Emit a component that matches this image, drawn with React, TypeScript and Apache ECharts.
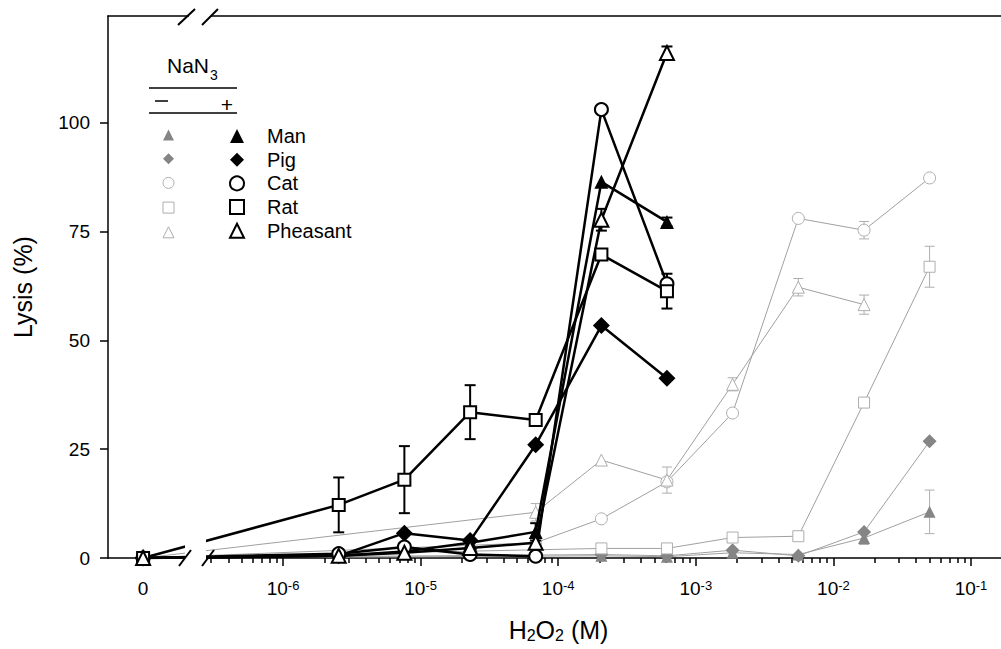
import React, { useEffect, useRef } from 'react';
import * as echarts from 'echarts';

const FONT = '"Liberation Sans", Arial, Helvetica, sans-serif';

// ---- axis settings (log10 of molar H2O2; 0 M is drawn left of the axis break) ----
const ZERO_POS = -7.017;
const X_MIN = -7.272;
const X_MAX = -0.782;
const X_EXPONENTS = [-6, -5, -4, -3, -2, -1];
const Y_TICKS = [0, 25, 50, 75, 100];
const Y_MAX = 124.5;

const SPECIES = ['Man', 'Pig', 'Cat', 'Rat', 'Pheasant'];

// ---- + NaN3 (black) ----
const CONC_PLUS = [0, 2.54e-6, 7.62e-6, 2.29e-5, 6.86e-5, 2.06e-4, 6.17e-4];
const MAN_PLUS = [0, 0.5, 1.5, 3.5, 6, 86.4, 77.2];
const PIG_PLUS = [0, 0.5, 5.7, 4, 26, 53.4, 41.3];
const CAT_PLUS = [0, 1, 2.5, 0.8, 0.4, 103, 63];
const RAT_PLUS = [0, 12.2, 18, 33.5, 31.7, 69.7, 61.3];
const PHEASANT_PLUS = [0, 0.5, 1.2, 2.3, 3.5, 77.7, 116];
const MAN_PLUS_ERR = [null, null, null, null, 2, null, 1];
const PIG_PLUS_ERR = [null, null, null, null, null, null, null];
const CAT_PLUS_ERR = [null, null, null, null, null, null, null];
const RAT_PLUS_ERR = [null, 6.3, 7.7, 6.2, 1, null, 4];
const PHEASANT_PLUS_ERR = [null, null, null, null, null, 2.5, 1.5];

// ---- - NaN3 (grey) ----
const CONC_MINUS = [0, 6.86e-5, 2.06e-4, 6.17e-4, 1.85e-3, 5.56e-3, 1.67e-2, 5.0e-2];
const MAN_MINUS = [0, null, 0.5, 0.3, 1.2, 0.8, 4.6, 10.6];
const PIG_MINUS = [0, null, 0.8, 0.5, 1.8, 0.5, 6, 26.8];
const CAT_MINUS = [0, 3.5, 9, 17.5, 33.3, 78, 75.3, 87.3];
const RAT_MINUS = [0, null, 2.2, 2.2, 4.7, 5, 35.7, 66.9];
const PHEASANT_MINUS = [0, 10.5, 22.5, 17.9, 39.9, 62.2, 58.2, null];
const MAN_MINUS_ERR = [null, null, null, null, null, null, 1.5, 5];
const PIG_MINUS_ERR = [null, null, null, null, null, null, null, null];
const CAT_MINUS_ERR = [null, null, null, null, null, null, 2, null];
const RAT_MINUS_ERR = [null, null, null, null, null, null, null, 4.7];
const PHEASANT_MINUS_ERR = [null, 2, null, 3, 1.5, 2, 2.2, null];

const PLUS_VALUES = [MAN_PLUS, PIG_PLUS, CAT_PLUS, RAT_PLUS, PHEASANT_PLUS];
const PLUS_ERRS = [MAN_PLUS_ERR, PIG_PLUS_ERR, CAT_PLUS_ERR, RAT_PLUS_ERR, PHEASANT_PLUS_ERR];
const MINUS_VALUES = [MAN_MINUS, PIG_MINUS, CAT_MINUS, RAT_MINUS, PHEASANT_MINUS];
const MINUS_ERRS = [MAN_MINUS_ERR, PIG_MINUS_ERR, CAT_MINUS_ERR, RAT_MINUS_ERR, PHEASANT_MINUS_ERR];

const BLACK = '#000';
const GREY_LINE = '#a0a0a0';
const GREY_EDGE = '#aeaeae';
const GREY_FILL = '#858585';

const PLUS_STYLE = [
  { symbol: 'triangle', size: 14, item: { color: BLACK } },
  { symbol: 'diamond', size: 17, item: { color: BLACK } },
  { symbol: 'circle', size: 13, item: { color: '#fff', borderColor: BLACK, borderWidth: 2 } },
  { symbol: 'rect', size: 12, item: { color: '#fff', borderColor: BLACK, borderWidth: 2 } },
  { symbol: 'triangle', size: 14, item: { color: '#fff', borderColor: BLACK, borderWidth: 2 } },
];
const MINUS_STYLE = [
  { symbol: 'triangle', size: 12, item: { color: GREY_FILL } },
  { symbol: 'diamond', size: 14, item: { color: GREY_FILL } },
  { symbol: 'circle', size: 12, item: { color: '#fff', borderColor: GREY_EDGE, borderWidth: 1 } },
  { symbol: 'rect', size: 11, item: { color: '#fff', borderColor: GREY_EDGE, borderWidth: 1 } },
  { symbol: 'triangle', size: 12, item: { color: '#fff', borderColor: GREY_EDGE, borderWidth: 1 } },
];

const xOf = (c: number) => (c === 0 ? ZERO_POS : Math.log10(c));
const minusName = (s: string) => s + ' (−NaN3)';

function buildOption() {
  const majorX = [ZERO_POS, ...X_EXPONENTS];
  const minorX: number[] = [];
  for (let d = -7; d <= -1; d++) {
    for (let k = 2; k <= 9; k++) {
      const v = Math.log10(k) + d;
      if (v >= Math.log10(3e-7) - 1e-9 && v <= X_MAX) minorX.push(v);
    }
  }

  const series: any[] = [];

  const errorSeries = (rows: number[][], color: string, width: number, cap: number, z: number) => ({
    type: 'custom',
    xAxisIndex: 0,
    yAxisIndex: 0,
    z,
    silent: true,
    data: rows,
    renderItem: (_p: any, api: any) => {
      const x = api.value(0);
      const y = api.value(1);
      const e = api.value(2);
      const top = api.coord([x, y + e]);
      const bot = api.coord([x, Math.max(0, y - e)]);
      const style = { stroke: color, lineWidth: width };
      return {
        type: 'group',
        children: [
          { type: 'line', shape: { x1: top[0], y1: top[1], x2: bot[0], y2: bot[1] }, style },
          { type: 'line', shape: { x1: top[0] - cap, y1: top[1], x2: top[0] + cap, y2: top[1] }, style },
          { type: 'line', shape: { x1: bot[0] - cap, y1: bot[1], x2: bot[0] + cap, y2: bot[1] }, style },
        ],
      };
    },
  });

  // grey (-NaN3)
  const greyErrRows: number[][] = [];
  SPECIES.forEach((s, i) => {
    const vals = MINUS_VALUES[i];
    const data: number[][] = [];
    CONC_MINUS.forEach((c, j) => {
      if (vals[j] !== null) data.push([xOf(c), vals[j] as number]);
      const e = MINUS_ERRS[i][j];
      if (e !== null && vals[j] !== null) greyErrRows.push([xOf(c), vals[j] as number, e as number]);
    });
    series.push({
      type: 'line',
      name: minusName(s),
      data,
      z: 2,
      silent: true,
      symbol: MINUS_STYLE[i].symbol,
      symbolSize: MINUS_STYLE[i].size,
      showAllSymbol: true,
      lineStyle: { color: GREY_LINE, width: 1 },
      itemStyle: MINUS_STYLE[i].item,
      emphasis: { disabled: true },
    });
  });
  series.push(errorSeries(greyErrRows, GREY_EDGE, 1, 5, 1));

  // black (+NaN3)
  const blackErrRows: number[][] = [];
  SPECIES.forEach((s, i) => {
    const vals = PLUS_VALUES[i];
    const data: number[][] = [];
    CONC_PLUS.forEach((c, j) => {
      data.push([xOf(c), vals[j]]);
      const e = PLUS_ERRS[i][j];
      if (e !== null) blackErrRows.push([xOf(c), vals[j], e as number]);
    });
    series.push({
      type: 'line',
      name: s,
      data,
      z: 5,
      silent: true,
      symbol: PLUS_STYLE[i].symbol,
      symbolSize: PLUS_STYLE[i].size,
      showAllSymbol: true,
      lineStyle: { color: BLACK, width: 2.5 },
      itemStyle: PLUS_STYLE[i].item,
      emphasis: { disabled: true },
    });
  });
  series.push(errorSeries(blackErrRows, BLACK, 2, 5.5, 4));

  const axisLineStyle = { color: '#000', width: 1.5 };

  return {
    animation: false,
    backgroundColor: '#fff',
    textStyle: { fontFamily: FONT },
    grid: { left: 108, right: 0, top: 16, bottom: 91, containLabel: false },
    legend: [
      {
        orient: 'vertical',
        left: 157.5,
        top: 124.5,
        itemWidth: 11,
        itemHeight: 11,
        itemGap: 12.7,
        selectedMode: false,
        formatter: () => '',
        textStyle: { fontSize: 11, lineHeight: 11 },
        data: SPECIES.map((s, i) => ({
          name: minusName(s),
          icon: MINUS_STYLE[i].symbol,
          itemStyle: { ...MINUS_STYLE[i].item, borderWidth: MINUS_STYLE[i].item.borderWidth || 0 },
        })),
      },
      {
        orient: 'vertical',
        left: 224,
        top: 121,
        itemWidth: 14,
        itemHeight: 14,
        itemGap: 3.7,
        selectedMode: false,
        textStyle: { fontSize: 20, lineHeight: 14, color: '#000', fontFamily: FONT, padding: [0, 0, 0, 18] },
        data: SPECIES.map((s, i) => ({
          name: s,
          icon: PLUS_STYLE[i].symbol,
          itemStyle: { ...PLUS_STYLE[i].item, borderWidth: PLUS_STYLE[i].item.borderWidth || 0 },
        })),
      },
    ],
    xAxis: [
      {
        type: 'value',
        min: X_MIN,
        max: X_MAX,
        position: 'bottom',
        axisLine: { show: true, onZero: false, lineStyle: axisLineStyle },
        axisTick: { show: true, inside: false, length: 8, customValues: majorX, lineStyle: axisLineStyle },
        axisLabel: {
          show: true,
          customValues: majorX,
          margin: 21,
          formatter: (v: number) =>
            Math.abs(v - ZERO_POS) < 1e-6 ? '{b|0}' : '{b|10}{s|' + Math.round(v) + '}',
          rich: {
            b: { fontSize: 19, color: '#000', fontFamily: FONT },
            s: { fontSize: 13, color: '#000', fontFamily: FONT, verticalAlign: 'top' },
          },
        },
        splitLine: { show: false },
        name: '{a|H}{s|2}{a|O}{s|2}{a| (M)}',
        nameLocation: 'middle',
        nameGap: 59,
        nameTextStyle: {
          padding: [0, 0, 0, 8],
          rich: {
            a: { fontSize: 25, color: '#000', fontFamily: FONT, verticalAlign: 'top', lineHeight: 26 },
            s: { fontSize: 16, color: '#000', fontFamily: FONT, verticalAlign: 'bottom', lineHeight: 16, padding: [12, 0, 0, 0] },
          },
        },
      },
      {
        type: 'value',
        min: X_MIN,
        max: X_MAX,
        position: 'bottom',
        axisLine: { show: false, onZero: false },
        axisTick: { show: true, inside: false, length: 5, customValues: minorX, lineStyle: axisLineStyle },
        axisLabel: { show: false },
        splitLine: { show: false },
      },
      {
        type: 'value',
        min: X_MIN,
        max: X_MAX,
        position: 'top',
        axisLine: { show: true, onZero: false, lineStyle: axisLineStyle },
        axisTick: { show: false },
        axisLabel: { show: false },
        splitLine: { show: false },
      },
    ],
    yAxis: {
      type: 'value',
      min: 0,
      max: Y_MAX,
      position: 'left',
      axisLine: { show: true, onZero: false, lineStyle: axisLineStyle },
      axisTick: { show: true, inside: false, length: 8, customValues: Y_TICKS, lineStyle: axisLineStyle },
      axisLabel: { customValues: Y_TICKS, fontSize: 19, color: '#000', margin: 18, fontFamily: FONT },
      splitLine: { show: false },
      name: 'Lysis (%)',
      nameLocation: 'middle',
      nameGap: 73,
      nameTextStyle: { fontSize: 25, color: '#000', fontFamily: FONT },
    },
    graphic: [
      // axis break (bottom)
      { type: 'rect', z: 20, shape: { x: 185, y: 495, width: 21, height: 70 }, style: { fill: '#fff' } },
      { type: 'line', z: 21, shape: { x1: 179, y1: 566, x2: 191, y2: 550 }, style: { stroke: '#000', lineWidth: 2 } },
      { type: 'line', z: 21, shape: { x1: 202, y1: 566, x2: 214, y2: 550 }, style: { stroke: '#000', lineWidth: 2 } },
      // axis break (top)
      { type: 'rect', z: 20, shape: { x: 189, y: 11, width: 22, height: 10 }, style: { fill: '#fff' } },
      { type: 'line', z: 21, shape: { x1: 178, y1: 25, x2: 195, y2: 9 }, style: { stroke: '#000', lineWidth: 2 } },
      { type: 'line', z: 21, shape: { x1: 202, y1: 25, x2: 218, y2: 9 }, style: { stroke: '#000', lineWidth: 2 } },
      // legend header
      { type: 'text', z: 21, style: { text: 'NaN', x: 167, y: 65, fontSize: 21, fontFamily: FONT, fill: '#000', verticalAlign: 'middle' } },
      { type: 'text', z: 21, style: { text: '3', x: 210, y: 75, fontSize: 14, fontFamily: FONT, fill: '#000', verticalAlign: 'middle' } },
      { type: 'line', z: 21, shape: { x1: 149, y1: 88, x2: 237, y2: 88 }, style: { stroke: '#000', lineWidth: 1.5 } },
      { type: 'line', z: 21, shape: { x1: 155, y1: 101, x2: 168, y2: 101 }, style: { stroke: '#000', lineWidth: 1.5 } },
      { type: 'text', z: 21, style: { text: '+', x: 227, y: 104, fontSize: 21, fontFamily: FONT, fill: '#000', align: 'center', verticalAlign: 'middle' } },
      { type: 'line', z: 21, shape: { x1: 149, y1: 113, x2: 237, y2: 113 }, style: { stroke: '#000', lineWidth: 1.5 } },
    ],
    series,
  };
}

export default function App() {
  const ref = useRef<HTMLDivElement>(null);
  useEffect(() => {
    if (!ref.current) return;
    const chart = echarts.init(ref.current, null, { renderer: 'svg' });
    chart.setOption(buildOption() as any);
    return () => chart.dispose();
  }, []);
  return (
    <div
      ref={ref}
      style={{ position: 'absolute', left: 0, top: 0, width: 1001, height: 649, background: '#fff' }}
    />
  );
}
